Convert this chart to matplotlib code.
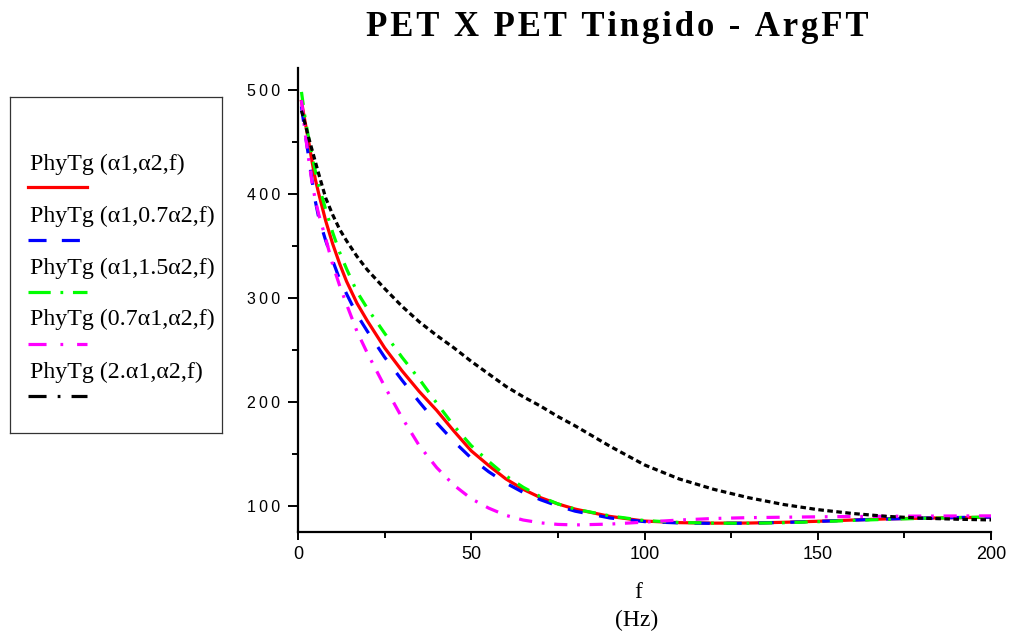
import matplotlib
matplotlib.use("Agg")
import matplotlib.pyplot as plt
from matplotlib.ticker import MultipleLocator, FuncFormatter
from matplotlib.lines import Line2D

plt.rcParams['lines.scale_dashes'] = False

# ---------------- data ----------------
f_vals = [1, 2, 3, 4, 5, 6, 8, 10, 12, 14, 17, 20, 25, 30, 35, 40, 45, 50,
          55, 60, 65, 70, 75, 80, 90, 100, 110, 120, 130, 140, 150, 160,
          170, 180, 190, 200]

phy_a1_a2 = [489, 470, 452, 432, 414, 400, 374, 352, 333, 316, 295, 278, 252,
             230, 210, 192, 172, 153, 139, 126, 116, 108, 102, 97, 90, 85.5,
             84, 83.5, 83.6, 84.3, 85.3, 86.5, 87.6, 88.3, 88.8, 89.2]

phy_a1_07a2 = [484, 460, 437, 414, 393, 377, 355, 336, 318, 304, 284, 268, 243,
               221, 200, 180, 162, 146, 133, 122, 113, 106, 100, 95, 88.5, 85,
               83.7, 83.3, 83.5, 84.2, 85.2, 86.4, 87.5, 88.3, 88.9, 89.4]

phy_a1_15a2 = [498, 474, 455, 438, 422, 408, 385, 363, 344, 328, 306, 290, 266,
               243, 222, 199, 177, 158, 143, 129, 118, 109, 102, 97, 90.5, 86,
               84.2, 83.5, 83.4, 83.9, 84.9, 86.1, 87.2, 88.1, 88.8, 89.4]

phy_07a1_a2 = [490, 460, 435, 412, 394, 380, 357, 332, 312, 294, 268, 247, 215,
               185, 158, 137, 120, 107, 98, 91, 86.5, 83.8, 82.3, 81.8, 82.6,
               84.5, 86.5, 88, 88.8, 89.2, 89.6, 89.9, 90.1, 90.3, 90.4, 90.5]

phy_2a1_a2 = [480, 468, 455, 443, 431, 419, 396, 380, 366, 355, 340, 327, 309,
              292, 277, 264, 252, 239, 227, 215, 205, 196, 186, 177, 157.5,
              139.5, 126, 116, 108, 101.5, 96.5, 92.8, 90, 88.3, 87.3, 86.6]

series_labels = ["PhyTg (\u03b11,\u03b12,f)",
                 "PhyTg (\u03b11,0.7\u03b12,f)",
                 "PhyTg (\u03b11,1.5\u03b12,f)",
                 "PhyTg (0.7\u03b11,\u03b12,f)",
                 "PhyTg (2.\u03b11,\u03b12,f)"]

x_ticks = [0, 50, 100, 150, 200]
y_ticks = [100, 200, 300, 400, 500]

# ---------------- styles ----------------
series = [phy_a1_a2, phy_a1_07a2, phy_a1_15a2, phy_07a1_a2, phy_2a1_a2]
colors = ['#ff0000', '#0000ff', '#00ff00', '#ff00ff', '#000000']
plot_dashes = [None, (11, 12), (9.5, 7, 2, 7), (9.5, 7, 2, 7), (4, 2.5)]
leg_dashes = [None, (13, 11), (16, 7, 2, 7), (13, 10, 2, 10), (13, 8, 2, 8)]
lw = 2.3

fig = plt.figure(figsize=(10.10, 6.33), dpi=100)
ax = fig.add_axes([298/1010, 1 - 532/633, (991 - 298)/1010, (532 - 68)/633])

for ys, c, d in zip(series, colors, plot_dashes):
    line, = ax.plot(f_vals, ys, color=c, lw=lw)
    if d is not None:
        line.set_dashes(d)

ax.set_xlim(0, 200)
ax.set_ylim(75, 521)
for s in ['top', 'right']:
    ax.spines[s].set_visible(False)
for s in ['left', 'bottom']:
    ax.spines[s].set_linewidth(1.6)

ax.xaxis.set_minor_locator(MultipleLocator(25))
ax.yaxis.set_minor_locator(MultipleLocator(50))
ax.set_xticks(x_ticks)
ax.set_yticks(y_ticks)

ax.xaxis.set_major_formatter(FuncFormatter(lambda v, p: str(int(v))))
ax.yaxis.set_major_formatter(
    FuncFormatter(lambda v, p: "\u2009".join(str(int(v)))))
ax.tick_params(axis='x', which='major', direction='out', length=6, width=1.4,
               labelsize=13, pad=4)
ax.tick_params(axis='y', which='major', direction='out', length=7, width=1.4,
               labelsize=11.5, pad=6)
ax.tick_params(which='minor', direction='out', length=4, width=1.4)
for lab in ax.get_xticklabels() + ax.get_yticklabels():
    lab.set_fontfamily(['Liberation Sans', 'DejaVu Sans'])

# axis title
fig.text(638/1010, 1 - 592/633, "f", ha='center', va='center',
         family='Liberation Serif', fontsize=17)
fig.text(637/1010, 1 - 620/633, "(Hz)", ha='center', va='center',
         family='Liberation Serif', fontsize=17)

# main title with letter spacing
title = "PET X PET Tingido - ArgFT"
fig.text(617/1010, 1 - 36/633, "\u200a".join(title), ha='center',
         va='baseline', family=['Liberation Serif', 'DejaVu Serif'],
         fontweight='bold', fontsize=25)

# legend box
lax = fig.add_axes([10/1010, 1 - 433/633, 212/1010, 336/633])
lax.set_xlim(0, 212)
lax.set_ylim(433, 97)
lax.set_xticks([])
lax.set_yticks([])
for s in lax.spines.values():
    s.set_linewidth(0.9)
    s.set_color('#333333')

text_y = [164, 216, 268, 319, 372]
line_y = [187, 240, 292, 344, 396]
for lab, c, d, ty, ly in zip(series_labels, colors, leg_dashes, text_y, line_y):
    lax.text(20, ty, lab, ha='left', va='center', family='Liberation Serif',
             fontsize=17.2)
    ln = Line2D([18, 77], [ly, ly], color=c, lw=lw)
    if d is not None:
        ln.set_dashes(d)
    lax.add_line(ln)

fig.savefig("out.png", dpi=100)
